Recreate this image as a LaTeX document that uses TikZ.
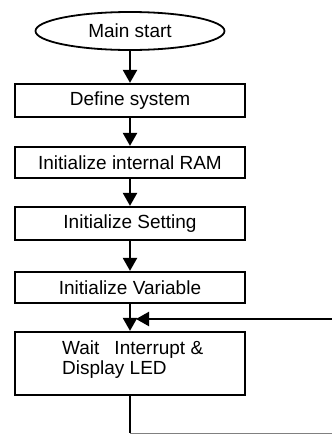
\documentclass[tikz,border=0pt]{standalone}
\usepackage{fontspec}
\setmainfont{Liberation Sans}
\usetikzlibrary{arrows.meta,shapes.geometric}
\begin{document}
\begin{tikzpicture}[x=1pt,y=-1pt,
  every node/.style={font=\fontsize{19}{20}\selectfont},
  procbox/.style={draw,line width=2.2pt,minimum width=230pt,inner sep=0pt},
  flow/.style={line width=2.2pt,-{Triangle[length=13pt,width=14pt]}},
  plain/.style={line width=2.2pt}]
\useasboundingbox (0,0) rectangle (332,434);
\node[ellipse,draw,line width=1.8pt,minimum width=189pt,minimum height=38pt,inner sep=0pt] (start) at (130,31) {Main start};
\node[procbox,minimum height=33pt] (b1) at (130,100.5) {Define system};
\node[procbox,minimum height=31pt] (b2) at (130,162.5) {Initialize internal RAM};
\node[procbox,minimum height=33pt] (b3) at (130,223.5) {Initialize Setting};
\node[procbox,minimum height=31pt] (b4) at (130,287.5) {Initialize Variable};
\node[procbox,minimum height=63pt] (b5) at (130,363.5) {};
\node[anchor=west,align=left,inner sep=0pt] (t5) at (62,360) {Wait\hspace{15pt}Interrupt \&\\Display LED};
\coordinate (c1) at (332,433);
\coordinate (c2) at (332,319);
\coordinate (c3) at (136,319);
\draw[flow] (start) -- (b1);
\draw[flow] (b1) -- (b2);
\draw[flow] (b2) -- (b3);
\draw[flow] (b3) -- (b4);
\draw[flow] (b4) -- (b5);
\draw[flow] (c2) -- (c3);
\draw[plain] (b5.south) -- (b5.south |- c1);
\draw[gray,line width=0.8pt] (b5.south |- c1) -- (c1);
\end{tikzpicture}
\end{document}
